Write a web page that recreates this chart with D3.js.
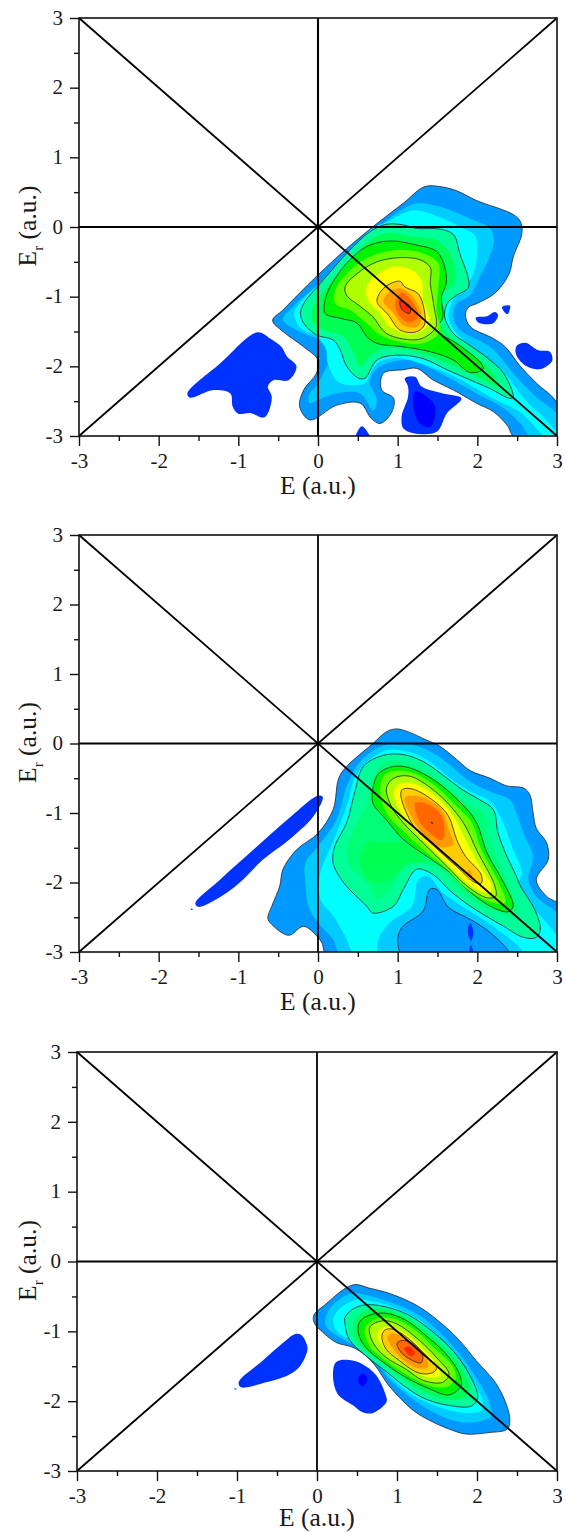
<!DOCTYPE html>
<html><head><meta charset="utf-8">
<script src="https://cdnjs.cloudflare.com/ajax/libs/d3/7.8.5/d3.min.js"></script>
<style>html,body{margin:0;padding:0;background:#fff}svg{display:block}text{font-family:"Liberation Serif",serif;fill:#1a1a1a}</style>
</head><body><script>
const xTicks=[-3,-2,-1,0,1,2,3], minorTicks=[-2.5,-1.5,-0.5,0.5,1.5,2.5];
const guides=[[[-3,-3],[3,3]],[[-3,3],[3,-3]],[[-3,0],[3,0]],[[0,-3],[0,3]]];
// level colours
const cIsland="#0033ff",cCore="#0000ff",cA="#0099ff",cB="#00ccff",cC="#00ffff",cD="#00ff99",cD2="#00ff55",cE="#00f500",cE2="#66ff00",cF="#b0ff00",cF2="#ffff00",cG="#ffcc00",cG2="#ff9900",cH="#ff6600",cI="#ff2a00";

// ---- Panel 1 contours [E, Er]
const p1_A=[[1.34,.58],[1.53,.58],[1.74,.52],[1.99,.38],[2.45,.18],[2.54,.08],[2.56,-.09],[2.45,-.43],[2.40,-.67],[2.22,-.95],[1.99,-1.10],[1.89,-1.15],[1.85,-1.26],[1.91,-1.43],[2.20,-1.60],[2.35,-1.72],[2.54,-2.00],[2.74,-2.24],[3,-2.53],[3.05,-3.05],[2.49,-3.05],[2.37,-2.84],[2.20,-2.65],[1.99,-2.53],[1.70,-2.34],[1.45,-2.20],[1.24,-2.03],[1.07,-2.05],[.82,-2.10],[.80,-2.34],[.95,-2.46],[.92,-2.67],[.78,-2.82],[.67,-2.75],[.53,-2.53],[.23,-2.56],[-.10,-2.77],[-.23,-2.58],[-.18,-2.34],[-.02,-2.10],[0,-1.91],[-.18,-1.72],[-.44,-1.50],[-.57,-1.34],[-.44,-1.19],[-.02,-.71],[.36,-.31],[.74,.05],[1.07,.34]];
const p1_B=[[1.24,.34],[1.53,.29],[1.91,.12],[2.16,-.02],[2.21,-.19],[2.12,-.52],[2.03,-.71],[1.91,-.98],[1.74,-1.10],[1.70,-1.29],[1.78,-1.48],[2.16,-1.72],[2.49,-2.15],[2.74,-2.44],[3.05,-2.75],[3.05,-3.05],[2.70,-3.05],[2.54,-2.82],[2.33,-2.60],[1.99,-2.39],[1.70,-2.20],[1.45,-2.05],[1.24,-1.93],[1.07,-1.91],[.86,-1.96],[.72,-2.05],[.65,-2.24],[.74,-2.48],[.69,-2.63],[.53,-2.39],[.23,-2.39],[0,-2.48],[-.10,-2.53],[-.12,-2.43],[0,-2.24],[.11,-2.0],[.15,-1.84],[0,-1.62],[-.18,-1.53],[-.44,-1.33],[-.31,-1.14],[0,-.83],[.36,-.45],[.74,-.04],[.99,.20]];
const p1_C=[[1.20,.24],[1.53,.14],[1.82,-.02],[1.97,-.12],[2.0,-.4],[1.93,-.72],[1.78,-.95],[1.70,-1.04],[1.64,-1.29],[1.72,-1.50],[2.0,-1.78],[2.33,-2.08],[2.60,-2.48],[2.85,-2.75],[3.05,-3.05],[2.9,-3.05],[2.54,-2.66],[2.20,-2.46],[1.70,-2.14],[1.32,-1.97],[.99,-1.88],[.74,-1.96],[.59,-2.24],[.48,-2.27],[.25,-2.22],[.12,-1.95],[.10,-1.75],[0,-1.58],[-.22,-1.45],[-.30,-1.24],[-.2,-1.05],[0,-.83],[.36,-.42],[.65,-.05],[.86,.07]];
const p1_D=[[.86,.04],[1.07,.03],[1.24,-.02],[1.53,-.03],[1.70,-.11],[1.78,-.38],[1.89,-.86],[1.74,-.98],[1.62,-1.10],[1.59,-1.29],[1.70,-1.53],[1.87,-1.67],[2.16,-1.91],[2.33,-2.10],[2.45,-2.44],[2.41,-2.46],[2.16,-2.32],[1.82,-2.15],[1.62,-2.05],[1.32,-1.89],[.99,-1.84],[.74,-1.91],[.59,-2.17],[.51,-2.17],[.36,-2.0],[.28,-1.77],[.19,-1.62],[-.02,-1.55],[-.18,-1.38],[-.22,-1.24],[-.18,-1.10],[.03,-.81],[.36,-.38],[.65,-.07]];
const p1_D2=[[.86,-.09],[1.20,-.14],[1.49,-.19],[1.68,-.43],[1.70,-.81],[1.53,-1.0],[1.51,-1.29],[1.62,-1.53],[1.87,-1.77],[2.12,-2.0],[2.28,-2.29],[1.91,-2.10],[1.49,-1.89],[1.15,-1.77],[.82,-1.74],[.65,-1.86],[.53,-2.0],[.44,-1.79],[.32,-1.57],[.07,-1.48],[-.08,-1.33],[-.06,-1.14],[.11,-.86],[.44,-.43],[.65,-.19]];
const p1_E=[[.90,-.20],[1.24,-.26],[1.49,-.35],[1.59,-.57],[1.61,-.81],[1.55,-1.0],[1.57,-1.29],[1.49,-1.48],[1.74,-1.67],[2.05,-1.96],[2.07,-2.04],[1.91,-2.09],[1.70,-1.91],[1.41,-1.79],[1.07,-1.72],[.74,-1.67],[.61,-1.57],[.49,-1.38],[.28,-1.31],[.09,-1.24],[.10,-1.0],[.23,-.71],[.40,-.47],[.61,-.28]];
const p1_E2=[[.99,-.33],[1.32,-.38],[1.51,-.52],[1.51,-.86],[1.49,-1.19],[1.53,-1.50],[1.32,-1.67],[1.03,-1.65],[.78,-1.55],[.61,-1.38],[.40,-1.19],[.22,-1.10],[.22,-.90],[.36,-.67],[.61,-.45]];
const p1_F=[[1.03,-.44],[1.28,-.47],[1.41,-.58],[1.41,-.81],[1.45,-1.10],[1.48,-1.43],[1.36,-1.57],[1.20,-1.62],[.86,-1.53],[.69,-1.29],[.53,-1.14],[.36,-.98],[.34,-.86],[.49,-.67],[.74,-.50]];
const p1_F2=[[.95,-.57],[1.18,-.62],[1.30,-.76],[1.32,-1.05],[1.40,-1.33],[1.32,-1.48],[1.15,-1.54],[.90,-1.43],[.78,-1.24],[.63,-1.05],[.61,-.86],[.74,-.69]];
const p1_G=[[1.03,-.78],[1.09,-.86],[1.26,-.96],[1.34,-1.24],[1.33,-1.42],[1.22,-1.51],[1.03,-1.48],[.88,-1.26],[.74,-1.07],[.78,-.94],[.88,-.83]];
const p1_G2=[[1.03,-.88],[1.20,-1.02],[1.30,-1.29],[1.25,-1.43],[1.07,-1.41],[.95,-1.24],[.82,-1.07],[.88,-.95]];
const p1_H=[[1.05,-.94],[1.18,-1.07],[1.26,-1.29],[1.15,-1.37],[1.03,-1.29],[.97,-1.10]];
const p1_I=[[1.03,-1.06],[1.09,-1.08],[1.16,-1.15],[1.15,-1.24],[1.05,-1.18]];
const p1_i1=[[-.76,-1.51],[-.60,-1.60],[-.46,-1.72],[-.39,-1.86],[-.27,-2.0],[-.37,-2.20],[-.56,-2.20],[-.63,-2.29],[-.58,-2.44],[-.67,-2.73],[-.85,-2.67],[-1.0,-2.68],[-1.07,-2.58],[-1.10,-2.39],[-1.31,-2.34],[-1.61,-2.45],[-1.64,-2.39],[-1.23,-1.96]];
const p1_i2=[[1.09,-2.17],[1.22,-2.15],[1.30,-2.29],[1.57,-2.39],[1.80,-2.46],[1.62,-2.67],[1.49,-2.94],[1.20,-2.96],[1.07,-2.89],[1.05,-2.72],[1.13,-2.44],[1.13,-2.29]];
const p1_i2c=[[1.22,-2.36],[1.45,-2.53],[1.47,-2.72],[1.41,-2.87],[1.28,-2.82],[1.20,-2.60]];
const p1_i3=[[.55,-2.86],[.66,-3.05],[.47,-3.05]];
const p1_i4=[[2.49,-1.71],[2.60,-1.66],[2.77,-1.77],[2.91,-1.79],[2.94,-1.92],[2.79,-2.04],[2.62,-2.0],[2.49,-1.84]];
const p1_i5=[[1.98,-1.30],[2.12,-1.28],[2.22,-1.22],[2.26,-1.26],[2.20,-1.38],[2.01,-1.37]];
const p1_i6=[[2.31,-1.15],[2.41,-1.13],[2.38,-1.25],[2.34,-1.22]];

// ---- Panel 2 contours
const p2_A=[[.86,.17],[.99,.21],[1.15,.16],[1.36,.05],[1.53,-.04],[1.74,-.23],[1.91,-.39],[2.16,-.50],[2.37,-.61],[2.58,-.64],[2.66,-.74],[2.70,-1.0],[2.74,-1.22],[2.87,-1.43],[2.89,-1.67],[2.74,-1.96],[2.87,-2.20],[3.05,-2.34],[3.05,-3.05],[.12,-3.05],[.05,-2.87],[0,-2.79],[-.18,-2.63],[-.37,-2.76],[-.60,-2.58],[-.63,-2.51],[-.58,-2.34],[-.48,-2.05],[-.44,-1.81],[-.27,-1.53],[0,-1.29],[.19,-.95],[.26,-.50],[.36,-.33],[.69,0]];
const p2_B=[[.82,-.03],[1.11,0],[1.45,-.14],[1.70,-.35],[1.91,-.55],[2.16,-.69],[2.41,-.81],[2.49,-1.0],[2.58,-1.29],[2.70,-1.62],[2.64,-1.96],[2.74,-2.20],[3.05,-2.51],[3.05,-3.05],[.30,-3.05],[.19,-2.82],[0,-2.58],[-.12,-2.34],[-.16,-2.0],[-.16,-1.72],[0,-1.48],[.23,-1.10],[.36,-.62],[.53,-.26]];
const p2_C=[[.82,-.11],[1.11,-.11],[1.36,-.23],[1.66,-.50],[1.91,-.69],[2.16,-.83],[2.31,-1.10],[2.45,-1.53],[2.56,-1.86],[2.51,-2.05],[2.64,-2.29],[2.87,-2.58],[3.05,-2.87],[3.05,-3.05],[.49,-3.05],[.34,-2.77],[.19,-2.48],[.03,-2.24],[.03,-1.86],[.19,-1.41],[.36,-.90],[.49,-.43]];
const p2_holeB=[[.78,-3.05],[.76,-2.82],[.90,-2.58],[1.18,-2.34],[1.26,-1.96],[1.38,-1.91],[1.57,-2.15],[1.87,-2.39],[2.20,-2.63],[2.58,-3.05]];
const p2_holeA=[[1.07,-3.05],[1.0,-2.84],[1.05,-2.65],[1.32,-2.41],[1.40,-2.10],[1.49,-2.10],[1.64,-2.36],[1.91,-2.53],[2.16,-2.72],[2.40,-3.05]];
const p2_D=[[.82,-.17],[1.07,-.16],[1.32,-.26],[1.62,-.50],[1.82,-.67],[2.03,-.81],[2.20,-.95],[2.26,-1.29],[2.37,-1.62],[2.49,-1.91],[2.54,-2.05],[2.72,-2.39],[2.79,-2.67],[2.74,-2.79],[2.58,-2.79],[2.33,-2.63],[1.91,-2.34],[1.66,-2.12],[1.45,-1.89],[1.24,-1.81],[1.07,-2.10],[.95,-2.34],[.69,-2.44],[.61,-2.34],[.32,-2.0],[.19,-1.72],[.21,-1.48],[.36,-1.14],[.46,-.71],[.57,-.33]];
const p2_D2=[[.65,-.62],[.82,-.28],[1.07,-.26],[1.36,-.40],[1.62,-.62],[1.91,-.90],[2.08,-1.0],[2.16,-1.43],[2.31,-1.81],[2.47,-2.24],[2.49,-2.48],[2.16,-2.39],[1.82,-2.15],[1.53,-1.81],[1.28,-1.72],[1.07,-1.81],[.90,-2.10],[.74,-2.24],[.61,-2.0],[.40,-1.77],[.36,-1.53],[.49,-1.14],[.61,-.90]];
const p2_L=[[.53,-1.62],[.65,-1.41],[.82,-1.43],[1.07,-1.43],[1.36,-1.69],[1.11,-1.74],[.90,-1.96],[.69,-2.0],[.55,-1.81]];
const p2_E=[[.69,-.64],[.76,-.43],[.95,-.33],[1.15,-.35],[1.45,-.52],[1.66,-.71],[1.91,-1.0],[2.01,-1.19],[2.12,-1.57],[2.33,-2.0],[2.45,-2.34],[2.39,-2.42],[2.16,-2.34],[1.82,-2.05],[1.66,-1.86],[1.36,-1.62],[1.07,-1.38],[.86,-1.10],[.69,-.86]];
const p2_E2=[[.78,-.64],[.86,-.43],[1.15,-.41],[1.45,-.59],[1.70,-.86],[1.93,-1.14],[2.05,-1.53],[2.28,-2.03],[2.35,-2.29],[2.16,-2.28],[1.85,-2.08],[1.62,-1.81],[1.32,-1.53],[1.07,-1.26],[.86,-1.0]];
const p2_F=[[.86,-.64],[.95,-.50],[1.15,-.47],[1.45,-.67],[1.70,-.95],[1.85,-1.19],[1.99,-1.53],[2.22,-2.05],[2.23,-2.20],[2.12,-2.22],[1.87,-2.05],[1.62,-1.77],[1.32,-1.43],[1.07,-1.14],[.92,-.90]];
const p2_F2=[[.95,-.71],[1.03,-.58],[1.20,-.58],[1.49,-.77],[1.70,-1.05],[1.87,-1.43],[2.03,-1.77],[2.18,-2.05],[2.16,-2.15],[2.03,-2.12],[1.82,-1.96],[1.57,-1.67],[1.28,-1.33],[1.07,-1.05]];
const p2_G=[[1.04,-.75],[1.06,-.66],[1.20,-.66],[1.49,-.86],[1.64,-1.05],[1.74,-1.38],[1.85,-1.62],[2.05,-1.89],[2.05,-2.01],[1.97,-2.0],[1.74,-1.77],[1.45,-1.47],[1.20,-1.19]];
const p2_G2=[[1.09,-.78],[1.30,-.77],[1.55,-.95],[1.64,-1.24],[1.70,-1.45],[1.53,-1.49],[1.36,-1.36],[1.18,-1.07]];
const p2_G3=[[1.90,-1.81],[1.93,-1.89],[1.90,-1.97],[1.87,-1.89]];
const p2_H=[[1.22,-.86],[1.34,-.86],[1.53,-1.0],[1.59,-1.29],[1.55,-1.39],[1.45,-1.33],[1.30,-1.17],[1.23,-1.0]];
const p2_I=[[1.425,-1.13],[1.44,-1.14],[1.43,-1.155]];
const p2_i1=[[0,-.75],[.06,-.77],[-.06,-1.05],[-.39,-1.41],[-.69,-1.67],[-.96,-1.98],[-1.15,-2.15],[-1.50,-2.35],[-1.54,-2.30],[-1.23,-1.96],[-.90,-1.62],[-.39,-1.10]];
const p2_i2=[[1.91,-2.58],[1.95,-2.72],[1.92,-2.84],[1.88,-2.70]];
const p2_i3=[[1.92,-2.90],[1.95,-3.05],[1.90,-3.05]];
const p2_i4=[[-1.6,-2.38],[-1.57,-2.38],[-1.585,-2.395]];

// ---- Panel 3 contours
const p3_A=[[.36,-.38],[.49,-.33],[.65,-.38],[.86,-.44],[1.11,-.55],[1.32,-.68],[1.61,-.94],[1.78,-1.13],[1.99,-1.42],[2.24,-1.75],[2.38,-2.09],[2.41,-2.28],[2.38,-2.40],[2.15,-2.45],[1.86,-2.47],[1.70,-2.42],[1.45,-2.30],[1.20,-2.13],[.90,-1.78],[.74,-1.51],[.61,-1.35],[.45,-1.23],[.24,-1.16],[.07,-1.01],[-.03,-.89],[-.04,-.77],[.11,-.61]];
const p3_B=[[.43,-.46],[.65,-.49],[1.03,-.63],[1.28,-.77],[1.53,-1.01],[1.78,-1.32],[1.99,-1.66],[2.15,-1.99],[2.18,-2.21],[2.07,-2.28],[1.78,-2.30],[1.49,-2.18],[1.24,-2.01],[.90,-1.68],[.74,-1.44],[.57,-1.26],[.32,-1.11],[.11,-.92],[.13,-.73],[.26,-.56]];
const p3_C=[[.49,-.55],[.74,-.58],[1.03,-.69],[1.28,-.84],[1.53,-1.09],[1.78,-1.42],[1.95,-1.70],[2.07,-1.99],[2.06,-2.13],[1.90,-2.17],[1.65,-2.13],[1.36,-2.01],[1.11,-1.85],[.82,-1.54],[.63,-1.30],[.43,-1.13],[.26,-1.01],[.20,-.84],[.28,-.68]];
const p3_D=[[.45,-.68],[.61,-.62],[.86,-.65],[1.15,-.77],[1.45,-1.01],[1.70,-1.28],[1.90,-1.61],[2.01,-1.94],[1.93,-2.07],[1.65,-2.06],[1.36,-1.97],[1.11,-1.80],[.86,-1.57],[.61,-1.35],[.40,-1.11],[.35,-.89],[.35,-.80]];
const p3_D2=[[.47,-.84],[.61,-.70],[.86,-.69],[1.13,-.81],[1.40,-1.04],[1.65,-1.30],[1.84,-1.61],[1.90,-1.85],[1.80,-1.97],[1.53,-1.95],[1.26,-1.82],[.99,-1.61],[.74,-1.39],[.53,-1.20],[.45,-1.01]];
const p3_E=[[.53,-.87],[.65,-.77],[.86,-.74],[1.11,-.84],[1.36,-1.06],[1.61,-1.32],[1.78,-1.61],[1.80,-1.78],[1.65,-1.91],[1.40,-1.82],[1.11,-1.66],[.86,-1.47],[.61,-1.23],[.52,-1.04]];
const p3_E2=[[.60,-.96],[.74,-.82],[.93,-.81],[1.20,-.96],[1.45,-1.22],[1.70,-1.51],[1.73,-1.69],[1.61,-1.80],[1.36,-1.76],[1.11,-1.61],[.86,-1.42],[.65,-1.20]];
const p3_F=[[.66,-.94],[.82,-.85],[.99,-.89],[1.28,-1.13],[1.49,-1.37],[1.65,-1.61],[1.57,-1.73],[1.32,-1.70],[1.11,-1.54],[.86,-1.37],[.70,-1.16]];
const p3_F2=[[.75,-1.03],[.88,-.93],[1.07,-1.01],[1.32,-1.25],[1.49,-1.47],[1.54,-1.63],[1.36,-1.65],[1.11,-1.47],[.86,-1.27]];
const p3_G=[[.81,-1.07],[.85,-.98],[.95,-.97],[1.15,-1.11],[1.40,-1.39],[1.50,-1.51],[1.45,-1.59],[1.28,-1.60],[1.03,-1.42],[.86,-1.25]];
const p3_G2=[[.88,-1.07],[.97,-1.03],[1.15,-1.17],[1.38,-1.43],[1.38,-1.52],[1.24,-1.52],[1.03,-1.36]];
const p3_H=[[1.0,-1.17],[1.07,-1.13],[1.18,-1.16],[1.32,-1.34],[1.30,-1.45],[1.18,-1.41],[1.05,-1.30]];
const p3_I=[[1.09,-1.24],[1.16,-1.22],[1.22,-1.30],[1.19,-1.36],[1.13,-1.32]];
const p3_i1=[[-.28,-1.04],[-.20,-1.05],[-.13,-1.18],[-.12,-1.27],[-.22,-1.51],[-.35,-1.62],[-.64,-1.73],[-.95,-1.80],[-.98,-1.73],[-.68,-1.42],[-.39,-1.13]];
const p3_i2=[[.24,-1.44],[.40,-1.41],[.57,-1.47],[.74,-1.63],[.86,-1.92],[.87,-2.01],[.70,-2.17],[.57,-2.16],[.45,-2.06],[.26,-1.90],[.20,-1.63]];
const p3_i2c=[[.57,-1.60],[.63,-1.68],[.57,-1.79],[.51,-1.70]];
const p3_i3=[[-1.04,-1.82],[-1.0,-1.82],[-1.02,-1.835]];

const panels=[
 {l:79,r:557,t:18,b:436,title:58,layers:[[p1_i1,cIsland],[p1_i2,cIsland],[p1_i2c,cCore],[p1_i3,cIsland],[p1_i4,cIsland],[p1_i5,cIsland],[p1_i6,cIsland],
   [p1_A,cA,1],[p1_B,cB],[p1_C,cC],[p1_D,cD,1],[p1_D2,cD2],[p1_E,cE,1],[p1_E2,cE2],[p1_F,cF,1],[p1_F2,cF2],[p1_G,cG,1],[p1_G2,cG2],[p1_H,cH],[p1_I,cI,1]]},
 {l:79,r:557,t:535,b:952,title:58,layers:[[p2_i1,cIsland],[p2_i4,cIsland],
   [p2_A,cA,1],[p2_B,cB],[p2_C,cC],[p2_holeB,cB],[p2_holeA,cA,1],[p2_i2,cIsland],[p2_i3,cIsland],[p2_D,cD,1],[p2_D2,"#00ff77"],[p2_L,cD2],[p2_E,cE,1],[p2_E2,cE2],[p2_F,cF,1],[p2_F2,cF2],[p2_G,cG,1],[p2_G2,cG2],[p2_G3,cG2],[p2_H,cH],[p2_I,"#ff2a00",1]]},
 {l:77,r:557,t:1052,b:1471,title:55,layers:[[p3_i1,cIsland],[p3_i2,cIsland],[p3_i2c,cCore],[p3_i3,cIsland],
   [p3_A,cA,1],[p3_B,cB],[p3_C,cC],[p3_D,cD,1],[p3_D2,cD2],[p3_E,cE,1],[p3_E2,cE2],[p3_F,cF,1],[p3_F2,cF2],[p3_G,cG,1],[p3_G2,cG2],[p3_H,cH,1],[p3_I,cI]]}
];

const svg=d3.select("body").append("svg").attr("width",566).attr("height",1533);
const defs=svg.append("defs");
defs.append("filter").attr("id","soft").attr("x","-5%").attr("y","-5%").attr("width","110%").attr("height","110%")
  .append("feGaussianBlur").attr("stdDeviation",0.45);
panels.forEach((p,i)=>{
  const x=d3.scaleLinear().domain([-3,3]).range([p.l,p.r]);
  const y=d3.scaleLinear().domain([-3,3]).range([p.b,p.t]);
  defs.append("clipPath").attr("id","c"+i).append("rect").attr("x",p.l).attr("y",p.t).attr("width",p.r-p.l).attr("height",p.b-p.t);
  const g=svg.append("g");
  const cg=g.append("g").attr("clip-path",`url(#c${i})`).append("g").attr("filter","url(#soft)");
  const line=d3.line().x(d=>x(d[0])).y(d=>y(d[1])).curve(d3.curveCatmullRomClosed.alpha(0.5));
  cg.selectAll("path").data(p.layers).join("path")
    .attr("d",d=>line(d[0])).attr("fill",d=>d[1])
    .attr("stroke",d=>d[2]?"#223":"none").attr("stroke-width",.8);
  const gl=d3.line().x(d=>x(d[0])).y(d=>y(d[1]));
  g.selectAll("path.g").data(guides).join("path").attr("class","g").attr("d",gl)
    .attr("fill","none").attr("stroke","#000").attr("stroke-width",(d,j)=>j==3&&i==0?2.1:1.8);
  // frame
  g.append("rect").attr("x",p.l).attr("y",p.t).attr("width",p.r-p.l).attr("height",p.b-p.t).attr("fill","none").attr("stroke","#111").attr("stroke-width",1.6);
  // axes
  const ax=(gen,tr,ticks,size,labels)=>{
    const a=g.append("g").attr("transform",tr).call(gen.tickValues(ticks).tickSize(size).tickPadding(labels?5:0).tickFormat(labels?(v=>String(v)):""));
    a.select(".domain").remove();
    a.selectAll("line").attr("stroke","#111").attr("stroke-width",1.4);
    a.selectAll("text").attr("font-size",21).attr("fill","#1a1a1a").attr("font-family",'"Liberation Serif",serif');
    return a;
  };
  ax(d3.axisBottom(x),`translate(0,${p.b})`,minorTicks,5,false);
  const bx=ax(d3.axisBottom(x),`translate(0,${p.b})`,xTicks,10,true);
  bx.selectAll("text").attr("dy",null).attr("y",32).attr("text-anchor","middle");
  ax(d3.axisLeft(y),`translate(${p.l},0)`,minorTicks,5,false);
  const ly=ax(d3.axisLeft(y),`translate(${p.l},0)`,xTicks,9,true);
  ly.selectAll("text").attr("x",-16).attr("dy","0.3em");
  // titles
  g.append("text").attr("x",(p.l+p.r)/2).attr("y",p.b+p.title).attr("text-anchor","middle").attr("font-size",25.5).text("E (a.u.)");
  const yt=g.append("text").attr("transform",`translate(36,${(p.t+p.b)/2-1}) rotate(-90)`).attr("text-anchor","middle").attr("font-size",25.5);
  yt.append("tspan").text("E");
  yt.append("tspan").attr("font-size",15).attr("dy",7).text("r");
  yt.append("tspan").attr("dy",-7).text(" (a.u.)");
});
</script></body></html>
